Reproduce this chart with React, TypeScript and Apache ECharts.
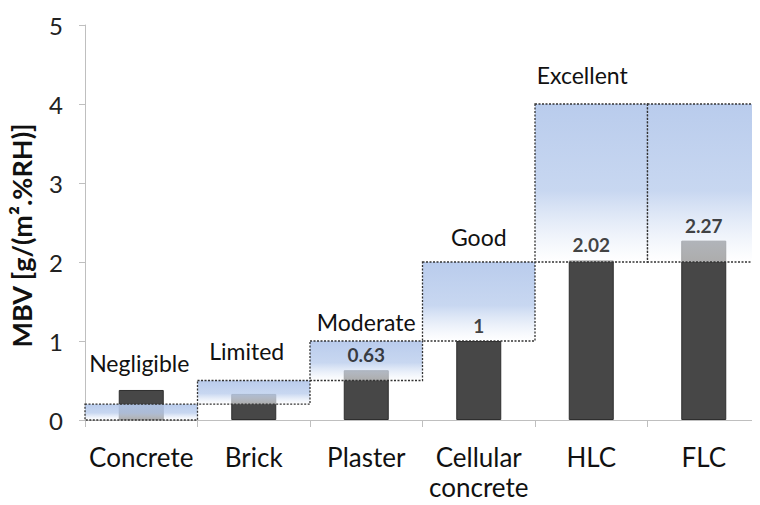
import React, { useEffect, useRef } from "react";
import * as echarts from "echarts";

const categories = ["Concrete", "Brick", "Plaster", "Cellular\nconcrete", "HLC", "FLC"];
const mbvValues = [0.38, 0.33, 0.63, 1, 2.02, 2.27];
const showValueLabel = [false, false, true, true, true, true];
const yTicks = { min: 0, max: 5, interval: 1 };

// rating boxes: category index, lower bound, upper bound, label
const boxCategory = [0, 1, 2, 3, 4, 5];
const boxLow = [0, 0.2, 0.5, 1, 2, 2];
const boxHigh = [0.2, 0.5, 1, 2, 4, 4];
const boxLabel = ["Negligible", "Limited", "Moderate", "Good", "Excellent", ""];
// label offsets (px) relative to top-centre of box (style only)
const boxLabelOffset = [
  [-2, -41],
  [-7, -30],
  [0, -19],
  [0, -25],
  [-9, -29],
  [0, 0],
];

const FONT = "Lato";

export default function App() {
  const ref = useRef<HTMLDivElement>(null);
  useEffect(() => {
    if (!ref.current) return;
    const chart = echarts.init(ref.current, null, { renderer: "svg" });
    const boxData = boxCategory.map((c, i) => [c, boxLow[i], boxHigh[i], i]);
    const option: any = {
      animation: false,
      backgroundColor: "#ffffff",
      textStyle: { fontFamily: FONT },
      grid: { left: 83, top: 25, bottom: 85, right: -9 },
      xAxis: {
        type: "category",
        data: categories,
        axisLine: { lineStyle: { color: "#bfbfbf", width: 1 } },
        axisTick: { show: true, length: 7, lineStyle: { color: "#bfbfbf" } },
        axisLabel: {
          color: "#111",
          fontSize: 26,
          fontFamily: FONT,
          margin: 22,
          lineHeight: 30,
          interval: 0,
        },
      },
      yAxis: {
        type: "value",
        min: yTicks.min,
        max: yTicks.max,
        interval: yTicks.interval,
        name: "MBV [g/(m².%RH)]",
        nameLocation: "middle",
        nameGap: 50,
        nameTextStyle: {
          fontSize: 27,
          fontWeight: "bold",
          color: "#111",
          fontFamily: FONT,
          padding: [0, 26, 0, 0],
        },
        axisLine: { show: true, lineStyle: { color: "#bfbfbf", width: 1 } },
        axisTick: { show: true, length: 6, lineStyle: { color: "#bfbfbf" } },
        splitLine: { show: false },
        axisLabel: { color: "#222", fontSize: 24, margin: 22, fontFamily: FONT },
      },
      series: [
        {
          type: "bar",
          data: mbvValues,
          barWidth: "40%",
          z: 2,
          itemStyle: { color: "#474747", borderColor: "#2e2e2e", borderWidth: 1 },
        },
        {
          type: "custom",
          z: 3,
          data: boxData,
          renderItem: (params: any, api: any) => {
            const idx = api.value(0);
            const lo = api.value(1);
            const hi = api.value(2);
            const k = api.value(3);
            const pTop = api.coord([idx, hi]);
            const pBot = api.coord([idx, lo]);
            const w = api.size([1, 0])[0];
            const x0 = pTop[0] - w / 2;
            const children: any[] = [
              {
                type: "rect",
                shape: { x: x0, y: pTop[1], width: w, height: pBot[1] - pTop[1] },
                style: {
                  fill: new echarts.graphic.LinearGradient(0, 0, 0, 1, [
                    { offset: 0, color: "rgba(180,200,235,0.93)" },
                    { offset: 0.55, color: "rgba(190,208,238,0.85)" },
                    { offset: 1, color: "rgba(255,255,255,0.55)" },
                  ]),
                  stroke: "#333",
                  lineWidth: 1.3,
                  lineDash: [2, 1.5],
                },
              },
            ];
            const txt = boxLabel[k];
            if (txt) {
              const off = boxLabelOffset[k];
              children.push({
                type: "text",
                x: pTop[0] + off[0],
                y: pTop[1] + off[1],
                style: {
                  text: txt,
                  fontSize: 23,
                  fontFamily: FONT,
                  fill: "#111",
                  align: "center",
                  verticalAlign: "middle",
                },
              });
            }
            return { type: "group", children };
          },
        },
        {
          type: "scatter",
          z: 10,
          symbolSize: 0,
          data: mbvValues.map((v, i) => (showValueLabel[i] ? v : "-")),
          label: {
            show: true,
            position: "top",
            distance: 6,
            fontSize: 19,
            fontWeight: "bold",
            fontFamily: FONT,
            color: "#111",
            formatter: (p: any) => String(p.value),
          },
        },
      ],
    };
    chart.setOption(option);
    return () => chart.dispose();
  }, []);
  return <div ref={ref} style={{ width: 760, height: 505, margin: -8 }} />;
}
